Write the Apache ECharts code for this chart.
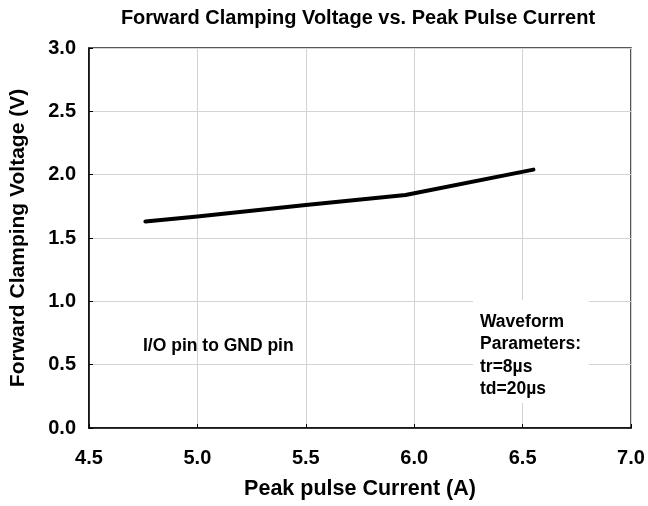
<!DOCTYPE html>
<html>
<head>
<meta charset="utf-8">
<script src="https://cdn.jsdelivr.net/npm/echarts@6/dist/echarts.min.js"></script>
<style>html,body{margin:0;padding:0;background:#fff}#c{width:648px;height:506px}</style>
</head>
<body>
<div id="c"></div>
<script>
var titleText = 'Forward Clamping Voltage vs. Peak Pulse Current';
var xName = 'Peak pulse Current (A)';
var yName = 'Forward Clamping Voltage (V)';
var peakCurrent = [4.76, 5.0, 5.5, 5.96, 6.55];
var clampVoltage = [1.63, 1.67, 1.76, 1.84, 2.04];
var noteLeft = 'I/O pin to GND pin';
var noteRight = ['Waveform', 'Parameters:', 'tr=8\u00b5s', 'td=20\u00b5s'];

var F = '"Liberation Sans", Arial, sans-serif';
var chart = echarts.init(document.getElementById('c'), null, {renderer: 'canvas'});
chart.setOption({
  animation: false,
  backgroundColor: '#fff',
  title: {
    text: titleText, left: 358, textAlign: 'center', top: 8, padding: 0,
    textStyle: {fontFamily: F, fontWeight: 'bold', fontSize: 20, color: '#000'}
  },
  grid: {left: 85, right: 17, top: 48, bottom: 78, show: true, borderColor: '#222', borderWidth: 1.5, backgroundColor: 'transparent'},
  xAxis: {
    type: 'value', min: 4.5, max: 7.0, interval: 0.5,
    name: xName, nameLocation: 'middle', nameGap: 50,
    nameTextStyle: {fontFamily: F, fontWeight: 'bold', fontSize: 21.5, color: '#000'},
    axisLine: {show: true, lineStyle: {color: '#000', width: 1.5}},
    axisTick: {show: true, inside: true, length: 4, lineStyle: {color: '#000'}},
    axisLabel: {fontFamily: F, fontWeight: 'bold', fontSize: 20, color: '#000', margin: 20,
      formatter: function (v) { return v.toFixed(1); }},
    splitLine: {show: true, lineStyle: {color: '#d3d3d3', width: 1}}
  },
  yAxis: {
    type: 'value', min: 0, max: 3.0, interval: 0.5,
    name: yName, nameLocation: 'middle', nameGap: 60, nameRotate: 90,
    nameTextStyle: {fontFamily: F, fontWeight: 'bold', fontSize: 21, color: '#000'},
    axisLine: {show: true, lineStyle: {color: '#000', width: 1.5}},
    axisTick: {show: true, inside: true, length: 4, lineStyle: {color: '#000'}},
    axisLabel: {fontFamily: F, fontWeight: 'bold', fontSize: 20, color: '#000', margin: 13,
      formatter: function (v) { return v.toFixed(1); }},
    splitLine: {show: true, lineStyle: {color: '#d3d3d3', width: 1}}
  },
  series: [{
    type: 'line',
    data: peakCurrent.map(function (x, i) { return [x, clampVoltage[i]]; }),
    showSymbol: false, symbol: 'none', smooth: false,
    lineStyle: {color: '#000', width: 4, cap: 'round', join: 'round'},
    z: 5
  }],
  graphic: [
    {type: 'text', left: 143, top: 337, z: 10,
      style: {text: noteLeft, fontFamily: F, fontWeight: 'bold', fontSize: 17.5, fill: '#000'}},
    {type: 'rect', left: 473, top: 300, z: 9, shape: {width: 116, height: 103}, style: {fill: '#fff'}},
    {type: 'text', left: 480, top: 311, z: 10,
      style: {text: noteRight.join('\n'), lineHeight: 22.3, fontFamily: F, fontWeight: 'bold', fontSize: 17.5, fill: '#000'}}
  ]
});
</script>
</body>
</html>
